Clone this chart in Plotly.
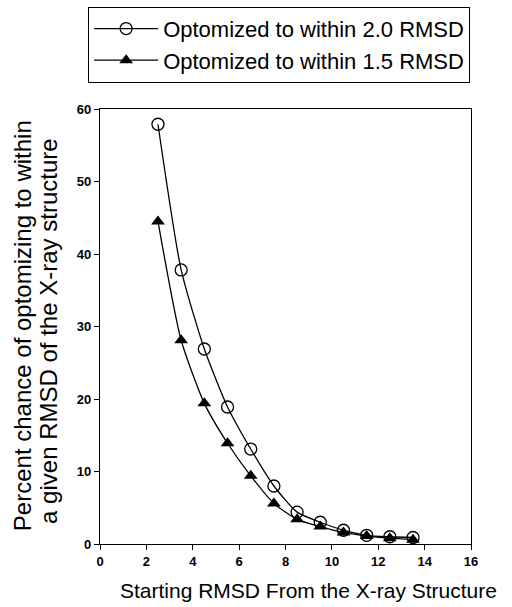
import plotly.graph_objects as go

x_vals = [2.5, 3.5, 4.5, 5.5, 6.5, 7.5, 8.5, 9.5, 10.5, 11.5, 12.5, 13.5]
within_2_0 = [57.9, 37.8, 26.9, 18.9, 13.1, 8.0, 4.4, 3.0, 1.9, 1.2, 1.0, 0.9]
within_1_5 = [44.5, 28.1, 19.4, 13.9, 9.4, 5.6, 3.4, 2.4, 1.6, 1.1, 0.8, 0.6]
x_ticks = [0, 2, 4, 6, 8, 10, 12, 14, 16]
y_ticks = [0, 10, 20, 30, 40, 50, 60]
x_title = "Starting RMSD From the X-ray Structure"
y_title_lines = ["Percent chance of optomizing to within", "a given RMSD of the X-ray structure"]

FONT = "Liberation Sans, Arial, sans-serif"

fig = go.Figure()
fig.add_trace(go.Scatter(
    x=x_vals, y=within_2_0, mode="lines+markers",
    name="Optomized to within 2.0 RMSD",
    line=dict(color="black", width=1.3, shape="spline", smoothing=0.6),
    marker=dict(symbol="circle-open", size=12, color="black", line=dict(width=1.3)),
))
fig.add_trace(go.Scatter(
    x=x_vals, y=within_1_5, mode="lines+markers",
    name="Optomized to within 1.5 RMSD",
    line=dict(color="black", width=1.3, shape="spline", smoothing=0.6),
    marker=dict(symbol="triangle-up", size=12, color="black"),
))

fig.update_layout(
    width=512, height=607,
    margin=dict(l=100, r=41, t=109, b=63, autoexpand=False),
    paper_bgcolor="white", plot_bgcolor="white",
    font=dict(family=FONT, color="black"),
    showlegend=True,
    legend=dict(
        x=-0.032, y=1.235, xanchor="left", yanchor="top",
        bordercolor="black", borderwidth=1,
        font=dict(size=22), tracegroupgap=0, itemwidth=64,
        bgcolor="white",
    ),
    xaxis=dict(
        range=[0, 16], tickvals=x_ticks, ticks="outside", ticklen=5,
        tickcolor="black", showline=True, linecolor="black", linewidth=1.2,
        mirror=True, showgrid=False, zeroline=False, automargin=False,
        tickfont=dict(size=13, family=FONT, weight="bold"),
    ),
    yaxis=dict(
        range=[0, 60], tickvals=y_ticks, ticks="outside", ticklen=5,
        tickcolor="black", showline=True, linecolor="black", linewidth=1.2,
        mirror=True, showgrid=False, zeroline=False, automargin=False,
        tickfont=dict(size=13, family=FONT, weight="bold"),
    ),
    annotations=[
        dict(text=x_title, xref="paper", yref="paper",
             x=0.563, y=-0.106, xanchor="center", yanchor="middle", showarrow=False,
             font=dict(size=21, family=FONT)),
        dict(text=y_title_lines[0], xref="paper", yref="paper", x=-0.210, y=0.501,
             xanchor="center", yanchor="middle", textangle=-90, showarrow=False,
             font=dict(size=24, family=FONT)),
        dict(text=y_title_lines[1], xref="paper", yref="paper", x=-0.137, y=0.488,
             xanchor="center", yanchor="middle", textangle=-90, showarrow=False,
             font=dict(size=24, family=FONT)),
    ],
)

fig.write_html("out.html", config={"displayModeBar": False},
               post_script="document.body.style.margin='0';document.body.style.padding='0';")
